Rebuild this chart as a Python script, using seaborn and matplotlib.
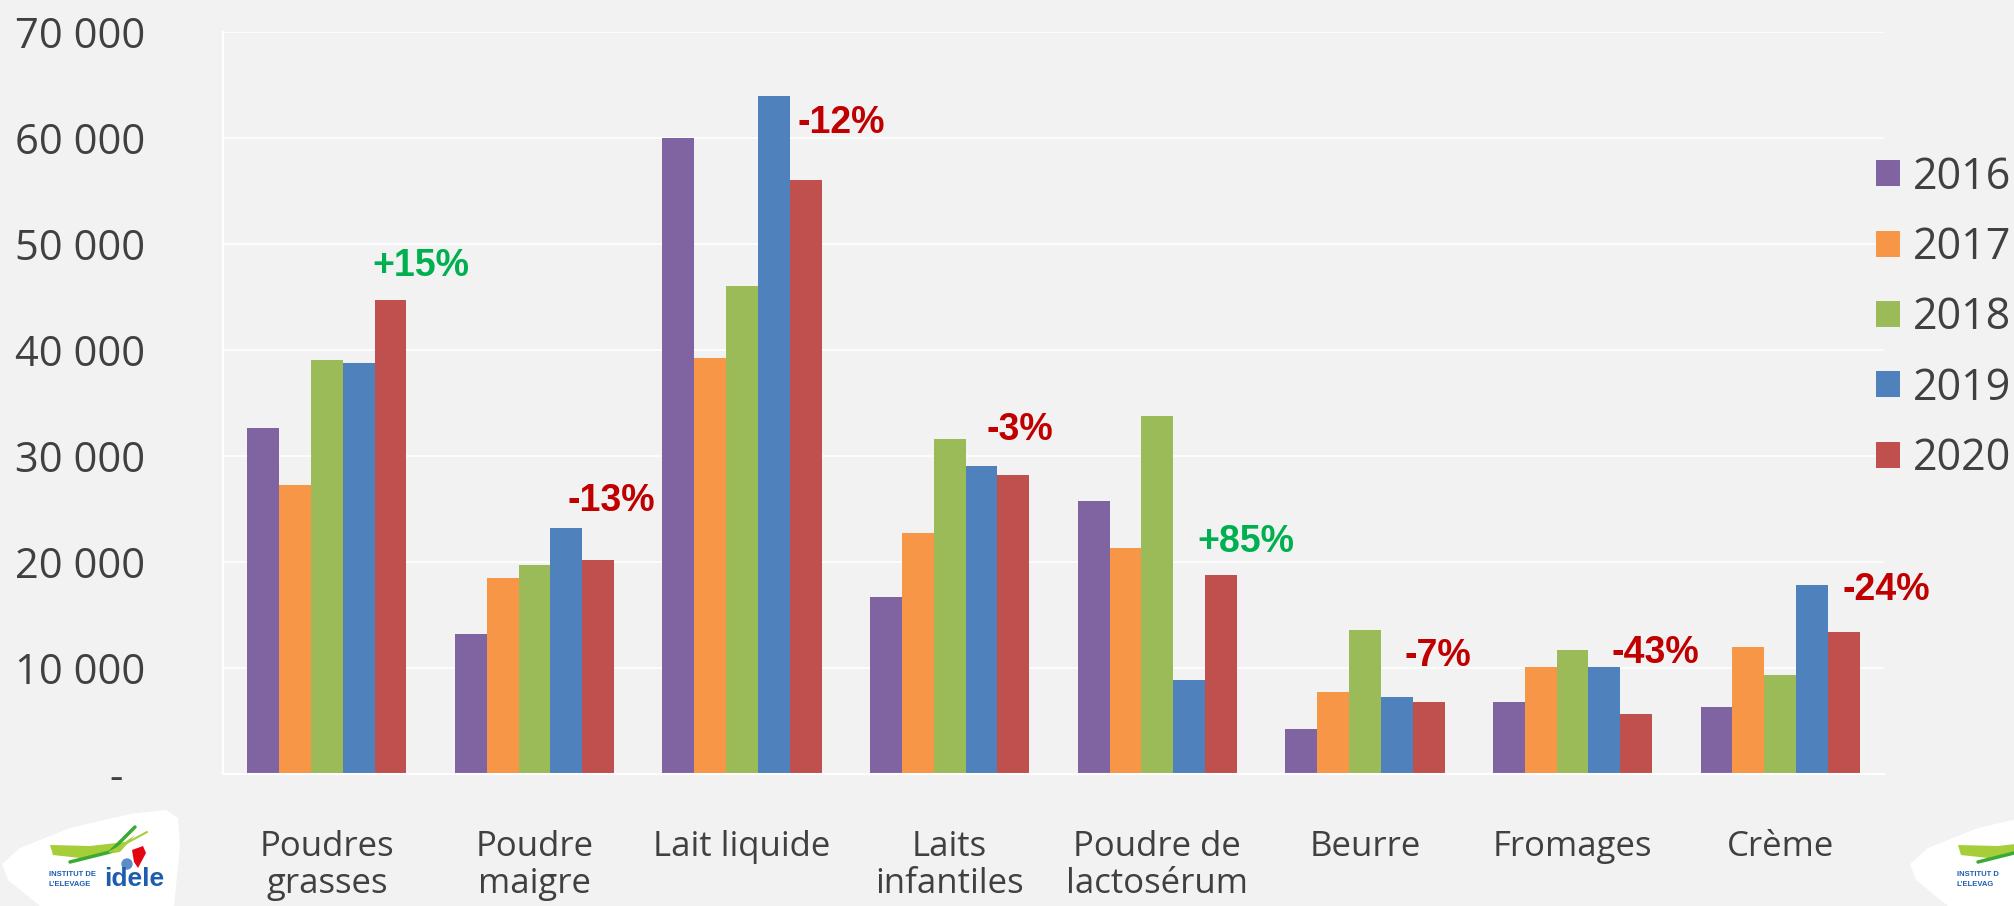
import numpy as np
import pandas as pd
import matplotlib.pyplot as plt
from matplotlib.patches import Polygon
import seaborn as sns

# volumes par produit et par année
produits = ["Poudres\ngrasses", "Poudre\nmaigre", "Lait liquide", "Laits\ninfantiles",
            "Poudre de\nlactosérum", "Beurre", "Fromages", "Crème"]
annees = ["2016", "2017", "2018", "2019", "2020"]
v2016 = [32600, 13200, 60000, 16700, 25800, 4200, 6800, 6300]
v2017 = [27300, 18500, 39200, 22700, 21300, 7700, 10100, 12000]
v2018 = [39100, 19700, 46000, 31600, 33800, 13600, 11700, 9300]
v2019 = [38800, 23200, 64000, 29100, 8900, 7300, 10100, 17800]
v2020 = [44700, 20200, 56000, 28200, 18800, 6800, 5700, 13400]
evolutions = ["+15%", "-13%", "-12%", "-3%", "+85%", "-7%", "-43%", "-24%"]
yticks = [0, 10000, 20000, 30000, 40000, 50000, 60000, 70000]
ytick_labels = ["-  ", "10 000", "20 000", "30 000", "40 000", "50 000", "60 000", "70 000"]

couleurs = ["#8064A2", "#F79646", "#9BBB59", "#4F81BD", "#C0504D"]
bg = "#F2F2F2"
gris = "#404040"

rows = []
for an, vals in zip(annees, [v2016, v2017, v2018, v2019, v2020]):
    for p, v in zip(produits, vals):
        rows.append({"Produit": p, "Année": an, "Volume": v})
df = pd.DataFrame(rows)

sns.set_style("white")
plt.rcParams['font.family'] = ['Open Sans', 'DejaVu Sans']

fig = plt.figure(figsize=(20.15, 9.06), dpi=100, facecolor=bg)

# logos (decor) in pixel coords
deco = fig.add_axes([0, 0, 1, 1], zorder=0)
deco.set_xlim(0, 2015)
deco.set_ylim(906, 0)
deco.axis("off")

def logo(x0, y0, l1, l2, with_name=True):
    blob = [(x0 + 2, y0 + 74), (x0 + 20, y0 + 58), (x0 + 70, y0 + 38), (x0 + 130, y0 + 24),
            (x0 + 166, y0 + 20), (x0 + 178, y0 + 28), (x0 + 180, y0 + 55), (x0 + 174, y0 + 116),
            (x0 + 40, y0 + 116), (x0 + 8, y0 + 90)]
    deco.add_patch(Polygon(blob, closed=True, facecolor="white", edgecolor="none"))
    vert = [(x0 + 50, y0 + 55), (x0 + 90, y0 + 56), (x0 + 125, y0 + 52), (x0 + 135, y0 + 45),
            (x0 + 120, y0 + 62), (x0 + 80, y0 + 68), (x0 + 53, y0 + 65)]
    deco.add_patch(Polygon(vert, closed=True, facecolor="#A6CE39", edgecolor="none"))
    deco.plot([x0 + 70, x0 + 110, x0 + 135], [y0 + 72, y0 + 62, y0 + 37], color="#3AAA35", lw=2.5)
    deco.plot([x0 + 110, x0 + 147], [y0 + 62, y0 + 42], color="#A6CE39", lw=1.5)
    deco.add_patch(Polygon([(x0 + 132, y0 + 60), (x0 + 143, y0 + 56), (x0 + 146, y0 + 63),
                            (x0 + 138, y0 + 78), (x0 + 134, y0 + 72)], closed=True,
                           facecolor="#E30613", edgecolor="none"))
    deco.add_patch(plt.Circle((x0 + 127, y0 + 74), 5, color="#5B8DC9"))
    deco.text(x0 + 49, y0 + 84, l1, fontsize=5.5, fontweight="bold",
              color="#1D5DAF", va="center", ha="left",
              family=["Liberation Sans", "DejaVu Sans"])
    deco.text(x0 + 49, y0 + 94, l2, fontsize=5.5, fontweight="bold",
              color="#1D5DAF", va="center", ha="left",
              family=["Liberation Sans", "DejaVu Sans"])
    if with_name:
        deco.text(x0 + 104, y0 + 89, "idele", fontsize=19, fontweight="bold", color="#1D5DAF",
                  va="center", ha="left", family=["Liberation Sans", "DejaVu Sans"])

logo(0, 790, "INSTITUT DE", "L'ELEVAGE")
logo(1908, 790, "INSTITUT D", "L'ELEVAG", with_name=False)

ax = fig.add_axes([223 / 2015, 1 - 774 / 906, (1884 - 223) / 2015, (774 - 32) / 906], zorder=1)
ax.set_facecolor("none")

sns.barplot(data=df, x="Produit", y="Volume", hue="Année", palette=couleurs,
            width=0.767, saturation=1, linewidth=0, ax=ax)

ax.set_ylim(0, 70000)
ax.set_xlim(-0.5, len(produits) - 0.5)
ax.set_yticks(yticks)
ax.set_yticklabels(ytick_labels)
ax.set_xlabel("")
ax.set_ylabel("")
ax.grid(axis="y", color="white", lw=1.2)
ax.set_axisbelow(True)
for s in ["top", "right"]:
    ax.spines[s].set_visible(False)
for s in ["left", "bottom"]:
    ax.spines[s].set_color("white")
    ax.spines[s].set_linewidth(1.5)

ax.tick_params(axis="y", length=0, pad=56, labelsize=30, labelcolor=gris)
ax.tick_params(axis="x", which="major", length=0, pad=40, labelsize=25, labelcolor=gris)
ax.set_xticks(np.arange(-0.5, len(produits), 1.0), minor=True)
ax.tick_params(axis="x", which="minor", length=11, width=1.5, color="white")
for t in ax.get_xticklabels():
    t.set_linespacing(1.15)

# annotations d'évolution 2020/2019
placement = [(0.454, 47900), (1.369, 25800), (2.477, 61400), (3.339, 32450),
             (4.425, 21900), (5.353, 11150), (6.398, 11430), (7.51, 17320)]
for (x, y), txt in zip(placement, evolutions):
    c = "#00B050" if txt.startswith("+") else "#C00000"
    ax.text(x, y, txt, ha="center", va="center", fontsize=27, fontweight="bold",
            color=c, family=["Liberation Sans", "DejaVu Sans"], clip_on=False)

handles, labels = ax.get_legend_handles_labels()
ax.get_legend().remove()
fig.legend(handles, labels, loc="center left", bbox_to_anchor=(1876 / 2015, 1 - 318 / 906),
           frameon=False, fontsize=31, labelcolor=gris, handlelength=0.56, handleheight=0.56,
           handletextpad=0.3, labelspacing=0.6, borderaxespad=0, borderpad=0)

fig.savefig("out.png", dpi=100, facecolor=bg)
